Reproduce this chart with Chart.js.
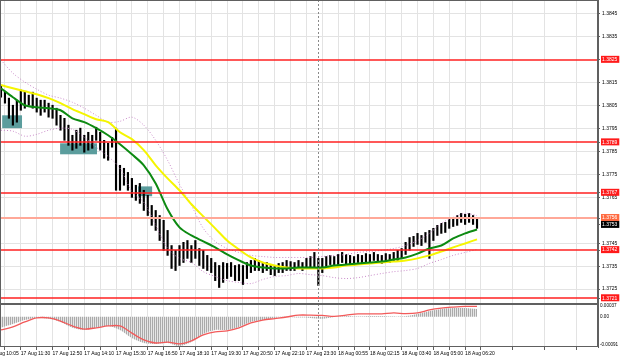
<!DOCTYPE html>
<html>
<head>
<meta charset="utf-8">
<script src="https://cdn.jsdelivr.net/npm/chart.js@4.4.1/dist/chart.umd.min.js"></script>
<style>
  html, body { margin: 0; padding: 0; background: #fff; }
  #wrap { position: relative; width: 620px; height: 359px; overflow: hidden; }
  #mainBox { position: absolute; left: 0; top: 0; width: 620px; height: 304px; }
  #subBox { position: absolute; left: 0; top: 303px; width: 620px; height: 56px; }
</style>
</head>
<body>
<div id="wrap">
  <div id="mainBox"><canvas id="priceChart"></canvas></div>
  <div id="subBox"><canvas id="macdChart"></canvas></div>
</div>
<script>
// 5-minute bars, x in bar index (tick labels every 16 bars)
const timeLabels = ["17 Aug 10:05", "17 Aug 11:30", "17 Aug 12:50", "17 Aug 14:10", "17 Aug 15:30", "17 Aug 16:50",
  "17 Aug 18:10", "17 Aug 19:30", "17 Aug 20:50", "17 Aug 22:10", "17 Aug 23:30", "18 Aug 00:55",
  "18 Aug 02:15", "18 Aug 03:40", "18 Aug 05:00", "18 Aug 06:20"];
const candleStart = 6, candleStep = 2;
const lineStart = 6, lineStep = 6;
const daySplit = 166;

const barHigh = [
  1.38135, 1.38109, 1.38083, 1.38052, 1.38074, 1.38118, 1.38109, 1.38096, 1.38109, 1.38083,
  1.38074, 1.38074, 1.38061, 1.38052, 1.38039, 1.38008, 1.37995, 1.37965, 1.37921, 1.37943,
  1.37952, 1.37921, 1.37934, 1.37921, 1.37956, 1.37934, 1.37899, 1.37886, 1.37912, 1.37952,
  1.37790, 1.37777, 1.37759, 1.37733, 1.37703, 1.37711, 1.37681, 1.37659, 1.37615, 1.37593,
  1.37571, 1.37550, 1.37506, 1.37440, 1.37419, 1.37440, 1.37454, 1.37462, 1.37440, 1.37462,
  1.37427, 1.37419, 1.37397, 1.37384, 1.37366, 1.37353, 1.37366, 1.37362, 1.37366, 1.37353,
  1.37357, 1.37353, 1.37366, 1.37375, 1.37384, 1.37375, 1.37366, 1.37366, 1.37357, 1.37353,
  1.37362, 1.37366, 1.37375, 1.37370, 1.37366, 1.37375, 1.37366, 1.37384, 1.37392, 1.37410,
  1.37384, 1.37384, 1.37392, 1.37397, 1.37392, 1.37401, 1.37410, 1.37401, 1.37397, 1.37392,
  1.37401, 1.37397, 1.37405, 1.37401, 1.37410, 1.37401, 1.37397, 1.37405, 1.37401, 1.37410,
  1.37419, 1.37427, 1.37454, 1.37475, 1.37480, 1.37493, 1.37484, 1.37497, 1.37506, 1.37515,
  1.37528, 1.37537, 1.37541, 1.37558, 1.37563, 1.37571, 1.37580, 1.37576, 1.37580, 1.37571,
  1.37558
];
const barLow = [
  1.38087, 1.38061, 1.37995, 1.37965, 1.37978, 1.38030, 1.38039, 1.38052, 1.38039, 1.38022,
  1.38008, 1.38022, 1.38000, 1.37995, 1.37965, 1.37943, 1.37899, 1.37877, 1.37856, 1.37864,
  1.37877, 1.37847, 1.37856, 1.37864, 1.37899, 1.37856, 1.37821, 1.37812, 1.37869, 1.37681,
  1.37681, 1.37703, 1.37681, 1.37650, 1.37637, 1.37624, 1.37593, 1.37571, 1.37528, 1.37506,
  1.37462, 1.37419, 1.37397, 1.37340, 1.37331, 1.37353, 1.37366, 1.37384, 1.37366, 1.37384,
  1.37353, 1.37340, 1.37331, 1.37322, 1.37287, 1.37257, 1.37279, 1.37296, 1.37305, 1.37287,
  1.37287, 1.37270, 1.37296, 1.37322, 1.37331, 1.37331, 1.37322, 1.37331, 1.37313, 1.37309,
  1.37322, 1.37322, 1.37331, 1.37331, 1.37331, 1.37340, 1.37331, 1.37340, 1.37340, 1.37340,
  1.37266, 1.37322, 1.37349, 1.37357, 1.37353, 1.37357, 1.37366, 1.37357, 1.37353, 1.37353,
  1.37366, 1.37362, 1.37366, 1.37366, 1.37375, 1.37366, 1.37362, 1.37366, 1.37366, 1.37375,
  1.37375, 1.37384, 1.37401, 1.37419, 1.37436, 1.37445, 1.37440, 1.37454, 1.37384, 1.37462,
  1.37484, 1.37493, 1.37497, 1.37515, 1.37523, 1.37528, 1.37541, 1.37532, 1.37541, 1.37532,
  1.37515
];

const maFast = [
  1.38126, 1.38087, 1.38052, 1.38043, 1.38039, 1.38030, 1.37995, 1.37978, 1.37952, 1.37921,
  1.37882, 1.37838, 1.37790, 1.37711, 1.37598, 1.37519, 1.37484, 1.37458, 1.37432, 1.37401,
  1.37375, 1.37353, 1.37344, 1.37340, 1.37340, 1.37344, 1.37344, 1.37344, 1.37353, 1.37357,
  1.37362, 1.37366, 1.37370, 1.37379, 1.37388, 1.37405, 1.37427, 1.37440, 1.37471, 1.37493,
  1.37510
];
const maSlow = [
  1.38140, 1.38126, 1.38113, 1.38100, 1.38083, 1.38061, 1.38035, 1.38013, 1.37991, 1.37978,
  1.37934, 1.37904, 1.37856, 1.37790, 1.37733, 1.37681, 1.37620, 1.37567, 1.37515, 1.37462,
  1.37423, 1.37388, 1.37366, 1.37353, 1.37344, 1.37340, 1.37340, 1.37340, 1.37344, 1.37353,
  1.37357, 1.37362, 1.37366, 1.37370, 1.37375, 1.37384, 1.37397, 1.37414, 1.37432, 1.37449,
  1.37467
];
const bandUpper = [
  1.38249, 1.38192, 1.38153, 1.38122, 1.38096, 1.38083, 1.38065, 1.38039, 1.38008, 1.37978,
  1.37982, 1.38000, 1.37965, 1.37899, 1.37812, 1.37707, 1.37615, 1.37515, 1.37458, 1.37427,
  1.37410, 1.37397, 1.37392, 1.37388, 1.37388, 1.37388, 1.37388, 1.37392, 1.37397, 1.37401,
  1.37410, 1.37414, 1.37419, 1.37427, 1.37440, 1.37462, 1.37493, 1.37537, 1.37563, 1.37580,
  1.37571
];
const bandLower = [
  1.37943, 1.37939, 1.37917, 1.37925, 1.37943, 1.37952, 1.37947, 1.37912, 1.37869, 1.37829,
  1.37777, 1.37676, 1.37628, 1.37528, 1.37427, 1.37384, 1.37366, 1.37326, 1.37305, 1.37287,
  1.37279, 1.37274, 1.37292, 1.37305, 1.37309, 1.37318, 1.37313, 1.37309, 1.37300, 1.37296,
  1.37300, 1.37309, 1.37318, 1.37326, 1.37331, 1.37340, 1.37362, 1.37379, 1.37397, 1.37410,
  1.37423
];

const macdHist = [
  -0.00036, -0.00024, -0.00011, -0.00004, -0.00007, -0.00017, -0.00036, -0.00043, -0.00036, -0.00030,
  -0.00043, -0.00069, -0.00085, -0.00088, -0.00085, -0.00095, -0.00082, -0.00056, -0.00043, -0.00043,
  -0.00033, -0.00017, -0.00011, -0.00004, -0.00001, -0.00003, -0.00004, -0.00007, -0.00001, 0.00002,
  0.00001, 0.00002, 0.00002, 0.00001, 0.00002, 0.00009, 0.00018, 0.00025, 0.00028, 0.00028,
  0.00025
];
const macdSignal = [
  -0.00043, -0.00033, -0.00017, -0.00004, -0.00004, -0.00014, -0.00030, -0.00040, -0.00036, -0.00030,
  -0.00030, -0.00053, -0.00075, -0.00085, -0.00082, -0.00088, -0.00078, -0.00059, -0.00049, -0.00046,
  -0.00036, -0.00020, -0.00011, -0.00006, -0.00001, 0.00005, 0.00005, 0.00004, 0.00001, 0.00005,
  0.00009, 0.00009, 0.00009, 0.00012, 0.00010, 0.00012, 0.00022, 0.00028, 0.00031, 0.00033,
  0.00033
];

// price axis labels and levels
const gridPrices = [1.3845, 1.3835, 1.3815, 1.3805, 1.3795, 1.3785, 1.3775, 1.3765, 1.3745, 1.3735, 1.3725];
const levelPrices = [1.3825, 1.3789, 1.3767, 1.3742, 1.3721];
const askPrice = 1.3756;
const bidPrice = 1.3753;
const macdTicks = [-0.00091, 0, 0.00037];

// shaded zones (bar index from/to, price top/bottom)
const zoneFrom = [6.6, 35.8, 75.1];
const zoneTo = [16.6, 54.4, 82.2];
const zoneTop = [1.38008, 1.37886, 1.37698];
const zoneBottom = [1.37952, 1.37838, 1.37655];

const tickFont = { family: "Liberation Sans", size: 5 };
const gridGrey = "#e3e3e3";

const overlay = {
  id: "overlay",
  beforeDatasetsDraw(chart, args, opts) {
    if (!opts.zones) return;
    const { ctx, scales: { x, y } } = chart;
    ctx.save();
    ctx.fillStyle = "#5b9d9d";
    zoneFrom.forEach((from, i) => {
      const x0 = x.getPixelForValue(from), x1 = x.getPixelForValue(zoneTo[i]);
      const y0 = y.getPixelForValue(zoneTop[i]), y1 = y.getPixelForValue(zoneBottom[i]);
      ctx.fillRect(x0, y0, x1 - x0, y1 - y0);
    });
    ctx.restore();
  },
  afterDatasetsDraw(chart, args, opts) {
    const { ctx, chartArea: a, scales: { x, y } } = chart;
    ctx.save();
    if (opts.levels) {
      ctx.strokeStyle = "#ffa898";
      ctx.lineWidth = 2;
      const ay = Math.round(y.getPixelForValue(askPrice));
      ctx.beginPath(); ctx.moveTo(a.left, ay); ctx.lineTo(a.right, ay); ctx.stroke();
      ctx.strokeStyle = "#ff2020";
      ctx.lineWidth = 1.6;
      levelPrices.forEach(p => {
        const py = Math.round(y.getPixelForValue(p));
        ctx.beginPath(); ctx.moveTo(a.left, py); ctx.lineTo(a.right, py); ctx.stroke();
      });
    }
    // day separator
    const dx = Math.round(x.getPixelForValue(daySplit)) + 0.5;
    ctx.strokeStyle = "#8a8a8a";
    ctx.lineWidth = 1;
    ctx.setLineDash([2, 2]);
    ctx.beginPath(); ctx.moveTo(dx, a.top); ctx.lineTo(dx, a.bottom); ctx.stroke();
    ctx.setLineDash([]);
    // panel frame
    ctx.strokeStyle = "#606060";
    ctx.strokeRect(a.left + 0.5, a.top + 0.5, a.right - a.left - 1, a.bottom - a.top - 1);
    ctx.restore();
  }
};

function xScale(showLabels) {
  return {
    type: "linear",
    min: 5.5,
    max: 307,
    offset: false,
    afterBuildTicks: s => {
      const t = [];
      for (let v = 0; v <= 304; v += 8) t.push({ value: v });
      s.ticks = t;
    },
    afterFit: s => {
      s.height = showLabels ? 12 : 0;
      s.paddingLeft = 0; s.paddingRight = 0;
    },
    grid: { color: gridGrey, drawTicks: showLabels, tickLength: 3, tickColor: "#606060", offset: false },
    border: { display: false },
    ticks: {
      display: showLabels,
      autoSkip: false,
      maxRotation: 0,
      align: "start",
      padding: 1,
      font: tickFont,
      color: "#000",
      callback: v => (v % 16 === 0 ? timeLabels[v / 16] : "")
    }
  };
}

const priceTicks = gridPrices.concat(levelPrices, [askPrice, bidPrice]).sort((a, b) => a - b);

function labelBack(v) {
  if (levelPrices.includes(v)) return "#ff1a1a";
  if (v === askPrice) return "#ff6a40";
  if (v === bidPrice) return "#000";
  return "rgba(0,0,0,0)";
}

new Chart(document.getElementById("priceChart"), {
  type: "bar",
  data: {
    datasets: [
      {
        type: "bar",
        data: barHigh.map((h, i) => ({ x: candleStart + i * candleStep, y: [barLow[i], h] })),
        backgroundColor: "#000",
        barThickness: 1.5,
        order: 10
      },
      {
        type: "line",
        data: bandUpper.map((v, i) => ({ x: lineStart + i * lineStep, y: v })),
        borderColor: "#c98ac9", borderWidth: 1, borderDash: [1, 2],
        pointRadius: 0, tension: 0.3, order: 5
      },
      {
        type: "line",
        data: bandLower.map((v, i) => ({ x: lineStart + i * lineStep, y: v })),
        borderColor: "#c98ac9", borderWidth: 1, borderDash: [1, 2],
        pointRadius: 0, tension: 0.3, order: 5
      },
      {
        type: "line",
        data: maSlow.map((v, i) => ({ x: lineStart + i * lineStep, y: v })),
        borderColor: "#f5f500", borderWidth: 2,
        pointRadius: 0, tension: 0.3, order: 2
      },
      {
        type: "line",
        data: maFast.map((v, i) => ({ x: lineStart + i * lineStep, y: v })),
        borderColor: "#0d8a12", borderWidth: 2,
        pointRadius: 0, tension: 0.3, order: 1
      }
    ]
  },
  options: {
    responsive: true,
    maintainAspectRatio: false,
    animation: false,
    layout: { padding: 0 },
    plugins: { legend: { display: false }, tooltip: { enabled: false }, overlay: { zones: true, levels: true } },
    scales: {
      x: xScale(false),
      y: {
        type: "linear",
        position: "right",
        min: 1.37185,
        max: 1.38511,
        afterBuildTicks: s => { s.ticks = priceTicks.map(v => ({ value: v })); },
        afterFit: s => { s.width = 22; s.paddingTop = 0; s.paddingBottom = 0; },
        grid: {
          color: c => (c.tick && gridPrices.includes(c.tick.value) ? gridGrey : "rgba(0,0,0,0)"),
          tickLength: 2,
          tickColor: "#606060"
        },
        border: { display: true, color: "#606060" },
        ticks: {
          autoSkip: false,
          padding: 2,
          font: tickFont,
          color: c => (gridPrices.includes(c.tick.value) ? "#000" : "#fff"),
          showLabelBackdrop: true,
          backdropColor: c => labelBack(c.tick.value),
          backdropPadding: { left: 1, right: 2, top: 1, bottom: 0 },
          callback: v => Number(v).toFixed(4)
        }
      }
    }
  },
  plugins: [overlay]
});

// striped fill for the histogram
const stripe = document.createElement("canvas");
stripe.width = 2; stripe.height = 1;
const sctx = stripe.getContext("2d");
sctx.fillStyle = "#aaaaaa"; sctx.fillRect(0, 0, 1, 1);
sctx.fillStyle = "#e6e6e6"; sctx.fillRect(1, 0, 1, 1);
const stripePattern = sctx.createPattern(stripe, "repeat");

new Chart(document.getElementById("macdChart"), {
  type: "line",
  data: {
    datasets: [
      {
        data: macdHist.map((v, i) => ({ x: lineStart + i * lineStep, y: v })),
        borderWidth: 0, borderColor: "rgba(0,0,0,0)",
        backgroundColor: stripePattern, fill: "origin",
        pointRadius: 0, tension: 0.3, order: 2
      },
      {
        data: macdSignal.map((v, i) => ({ x: lineStart + i * lineStep, y: v })),
        borderColor: "#f25a5a", borderWidth: 1.3,
        pointRadius: 0, tension: 0.3, order: 1
      }
    ]
  },
  options: {
    responsive: true,
    maintainAspectRatio: false,
    animation: false,
    layout: { padding: { top: 1 } },
    plugins: { legend: { display: false }, tooltip: { enabled: false }, overlay: { zones: false, levels: false } },
    scales: {
      x: xScale(true),
      y: {
        type: "linear",
        position: "right",
        min: -0.00098,
        max: 0.00041,
        afterBuildTicks: s => { s.ticks = macdTicks.map(v => ({ value: v })); },
        afterFit: s => { s.width = 22; s.paddingTop = 0; s.paddingBottom = 0; },
        grid: { color: "rgba(0,0,0,0)", tickLength: 1, tickColor: "#606060" },
        border: { display: true, color: "#606060" },
        ticks: {
          autoSkip: false,
          padding: 1,
          font: { family: "Liberation Sans", size: 4.6 },
          color: "#000",
          callback: v => (v === 0 ? "0.00" : Number(v).toFixed(5))
        }
      }
    }
  },
  plugins: [overlay]
});
</script>
</body>
</html>
